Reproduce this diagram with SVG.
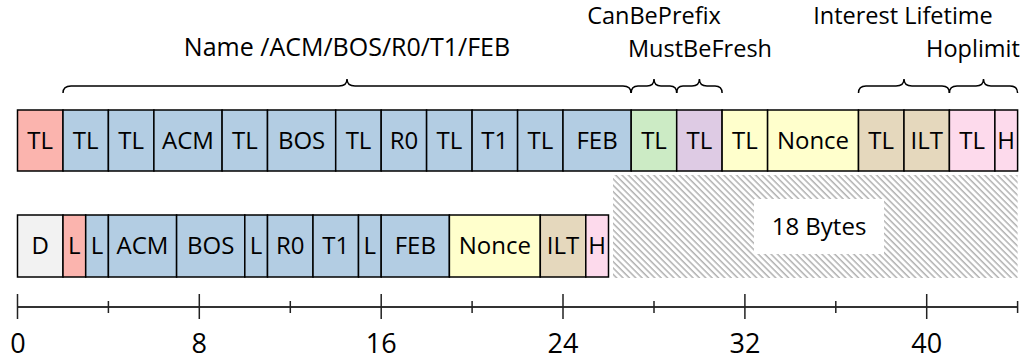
<svg xmlns="http://www.w3.org/2000/svg" width="1027" height="362" viewBox="0 0 1027 362">
<style>
rect.f{stroke:#000;stroke-width:1.5}
.red{fill:#fbb4ae}.blue{fill:#b3cde3}.green{fill:#ccebc5}.purple{fill:#decbe4}.yellow{fill:#ffffcc}.tan{fill:#e5d8bd}.pink{fill:#fddaec}.gray{fill:#f2f2f2}
text{font-family:"Open Sans","Noto Sans",sans-serif;fill:#000}
.bl{font-size:24px;text-anchor:middle}
.hd{font-size:25px;text-anchor:middle}
.hs{font-size:23.5px;text-anchor:middle}
.ax{font-size:27px;text-anchor:middle}
.br{fill:none;stroke:#000;stroke-width:1.5}
.tk{stroke:#222;stroke-width:1.5}
</style>
<defs>
<pattern id="hatch" patternUnits="userSpaceOnUse" width="4.5" height="4.5" patternTransform="rotate(-45)">
<line x1="1" y1="-1" x2="1" y2="6" stroke="#8a8a8a" stroke-width="1"/>
</pattern>
</defs>
<rect width="1027" height="362" fill="#fff"/>

<g id="labels">
<text class="hd" x="347" y="56">Name /ACM/BOS/R0/T1/FEB</text>
<text class="hs" x="654" y="24">CanBePrefix</text>
<text class="hs" x="700" y="57">MustBeFresh</text>
<text class="hs" x="903" y="24">Interest Lifetime</text>
<text class="hs" x="973" y="57">Hoplimit</text>
</g>

<g id="braces">
<path class="br" d="M63,93 Q63,86 71,86 L339,86 Q347,86 347,79 Q347,86 355,86 L623,86 Q631,86 631,93"/>
<path class="br" d="M631.2,93 Q631.2,86 638,86 L647,86 Q654,86 654,79 Q654,86 661,86 L670,86 Q676.7,86 676.7,93"/>
<path class="br" d="M676.7,93 Q676.7,86 683,86 L692,86 Q699.4,86 699.4,79 Q699.4,86 707,86 L715,86 Q722.1,86 722.1,93"/>
<path class="br" d="M858.5,93 Q858.5,86 866,86 L896,86 Q904,86 904,79 Q904,86 912,86 L942,86 Q949.4,86 949.4,93"/>
<path class="br" d="M949.4,93 Q949.4,86 957,86 L976,86 Q983.5,86 983.5,79 Q983.5,86 991,86 L1010,86 Q1017.6,86 1017.6,93"/>
</g>

<g id="row1">
<g id="r1-tl0"><rect class="f red" x="17.5" y="110" width="45.5" height="61"/><text class="bl" x="40.2" y="149">TL</text></g>
<g id="r1-tl1"><rect class="f blue" x="63" y="110" width="45.4" height="61"/><text class="bl" x="85.7" y="149">TL</text></g>
<g id="r1-tl2"><rect class="f blue" x="108.4" y="110" width="45.5" height="61"/><text class="bl" x="131.2" y="149">TL</text></g>
<g id="r1-acm"><rect class="f blue" x="153.9" y="110" width="68.2" height="61"/><text class="bl" x="188" y="149">ACM</text></g>
<g id="r1-tl3"><rect class="f blue" x="222.1" y="110" width="45.4" height="61"/><text class="bl" x="244.8" y="149">TL</text></g>
<g id="r1-bos"><rect class="f blue" x="267.5" y="110" width="68.2" height="61"/><text class="bl" x="301.6" y="149">BOS</text></g>
<g id="r1-tl4"><rect class="f blue" x="335.7" y="110" width="45.5" height="61"/><text class="bl" x="358.5" y="149">TL</text></g>
<g id="r1-r0"><rect class="f blue" x="381.2" y="110" width="45.4" height="61"/><text class="bl" x="403.9" y="149">R0</text></g>
<g id="r1-tl5"><rect class="f blue" x="426.6" y="110" width="45.5" height="61"/><text class="bl" x="449.4" y="149">TL</text></g>
<g id="r1-t1"><rect class="f blue" x="472.1" y="110" width="45.5" height="61"/><text class="bl" x="494.8" y="149">T1</text></g>
<g id="r1-tl6"><rect class="f blue" x="517.6" y="110" width="45.4" height="61"/><text class="bl" x="540.3" y="149">TL</text></g>
<g id="r1-feb"><rect class="f blue" x="563" y="110" width="68.2" height="61"/><text class="bl" x="597.1" y="149">FEB</text></g>
<g id="r1-cbp"><rect class="f green" x="631.2" y="110" width="45.5" height="61"/><text class="bl" x="654" y="149">TL</text></g>
<g id="r1-mbf"><rect class="f purple" x="676.7" y="110" width="45.4" height="61"/><text class="bl" x="699.4" y="149">TL</text></g>
<g id="r1-tl7"><rect class="f yellow" x="722.1" y="110" width="45.5" height="61"/><text class="bl" x="744.9" y="149">TL</text></g>
<g id="r1-nonce"><rect class="f yellow" x="767.6" y="110" width="90.9" height="61"/><text class="bl" x="813" y="149">Nonce</text></g>
<g id="r1-tl8"><rect class="f tan" x="858.5" y="110" width="45.5" height="61"/><text class="bl" x="881.2" y="149">TL</text></g>
<g id="r1-ilt"><rect class="f tan" x="904" y="110" width="45.4" height="61"/><text class="bl" x="926.7" y="149">ILT</text></g>
<g id="r1-tl9"><rect class="f pink" x="949.4" y="110" width="45.5" height="61"/><text class="bl" x="972.2" y="149">TL</text></g>
<g id="r1-h"><rect class="f pink" x="994.9" y="110" width="22.7" height="61"/><text class="bl" x="1006.2" y="149">H</text></g>
</g>

<g id="saved">
<rect x="613" y="175" width="404.6" height="103" fill="url(#hatch)"/>
<rect x="754" y="199" width="130" height="55" fill="#fff"/>
<text class="bl" x="819" y="235">18 Bytes</text>
</g>

<g id="row2">
<g id="r2-d"><rect class="f gray" x="17.5" y="215" width="45.5" height="62"/><text class="bl" x="40.2" y="254">D</text></g>
<g id="r2-l0"><rect class="f red" x="63" y="215" width="22.7" height="62"/><text class="bl" x="74.3" y="254">L</text></g>
<g id="r2-l1"><rect class="f blue" x="85.7" y="215" width="22.7" height="62"/><text class="bl" x="97" y="254">L</text></g>
<g id="r2-acm"><rect class="f blue" x="108.4" y="215" width="68.2" height="62"/><text class="bl" x="142.5" y="254">ACM</text></g>
<g id="r2-bos"><rect class="f blue" x="176.6" y="215" width="68.2" height="62"/><text class="bl" x="210.7" y="254">BOS</text></g>
<g id="r2-l2"><rect class="f blue" x="244.8" y="215" width="22.7" height="62"/><text class="bl" x="256.1" y="254">L</text></g>
<g id="r2-r0"><rect class="f blue" x="267.5" y="215" width="45.5" height="62"/><text class="bl" x="290.2" y="254">R0</text></g>
<g id="r2-t1"><rect class="f blue" x="313" y="215" width="45.5" height="62"/><text class="bl" x="335.7" y="254">T1</text></g>
<g id="r2-l3"><rect class="f blue" x="358.5" y="215" width="22.7" height="62"/><text class="bl" x="369.8" y="254">L</text></g>
<g id="r2-feb"><rect class="f blue" x="381.2" y="215" width="68.2" height="62"/><text class="bl" x="415.3" y="254">FEB</text></g>
<g id="r2-nonce"><rect class="f yellow" x="449.4" y="215" width="90.9" height="62"/><text class="bl" x="494.8" y="254">Nonce</text></g>
<g id="r2-ilt"><rect class="f tan" x="540.3" y="215" width="45.5" height="62"/><text class="bl" x="563" y="254">ILT</text></g>
<g id="r2-h"><rect class="f pink" x="585.8" y="215" width="22.7" height="62"/><text class="bl" x="597.1" y="254">H</text></g>
</g>

<g id="axis">
<line x1="17.5" y1="307" x2="1017.6" y2="307" stroke="#333" stroke-width="2"/>
<path class="tk" d="M17.5,294V319 M199.3,294V319 M381.2,294V319 M563,294V319 M744.9,294V319 M926.7,294V319 M108.4,301V313 M290.3,301V313 M472.1,301V313 M654,301V313 M835.8,301V313 M1017.6,301V313"/>
<text class="ax" x="18" y="353">0</text>
<text class="ax" x="199.3" y="353">8</text>
<text class="ax" x="381.2" y="353">16</text>
<text class="ax" x="563" y="353">24</text>
<text class="ax" x="744.9" y="353">32</text>
<text class="ax" x="926.7" y="353">40</text>
</g>
</svg>
